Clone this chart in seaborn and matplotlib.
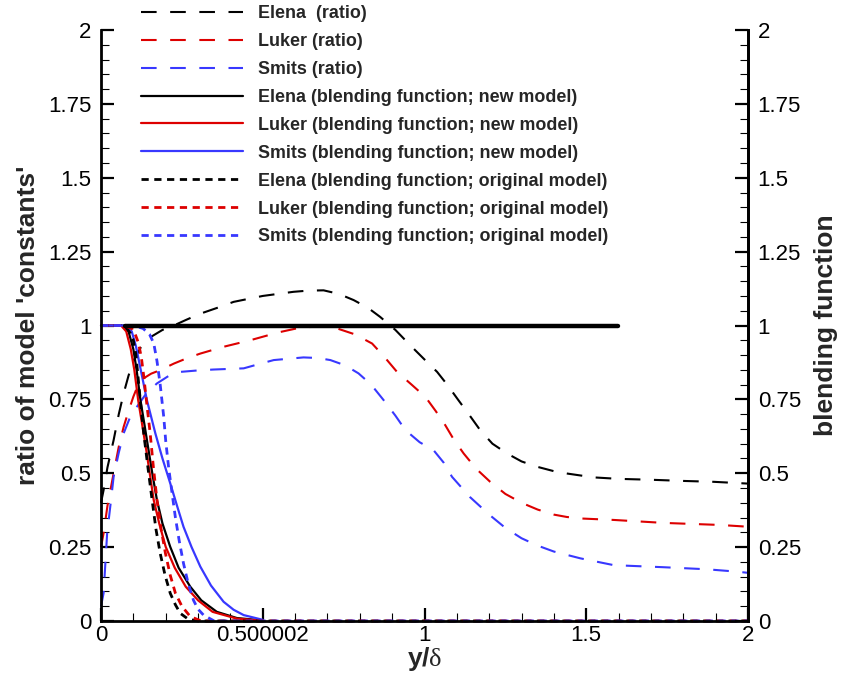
import numpy as np
import pandas as pd
import matplotlib
matplotlib.use("Agg")
import matplotlib.pyplot as plt
import seaborn as sns

# ---------------- data ----------------
elena_new_x = [0, 0.05, 0.07, 0.085, 0.1, 0.11, 0.122, 0.135, 0.147, 0.16, 0.173, 0.19, 0.214, 0.24,
               0.276, 0.31, 0.358, 0.42, 0.5]
elena_new_y = [1, 1, 1.0, 0.98, 0.92, 0.85, 0.747, 0.66, 0.578, 0.49, 0.409, 0.33, 0.251, 0.18,
               0.116, 0.07, 0.031, 0.01, 0.002]

luker_new_x = [0, 0.045, 0.062, 0.078, 0.092, 0.103, 0.115, 0.128, 0.14, 0.152, 0.163, 0.18, 0.2, 0.228,
               0.262, 0.3, 0.345, 0.42, 0.5]
luker_new_y = [1, 1, 1.0, 0.98, 0.92, 0.85, 0.747, 0.66, 0.578, 0.49, 0.409, 0.33, 0.251, 0.18,
               0.116, 0.07, 0.031, 0.008, 0.001]

smits_new_x = [0, 0.05, 0.08, 0.095, 0.108, 0.121, 0.142, 0.168, 0.19, 0.214, 0.235, 0.255, 0.28, 0.307,
               0.34, 0.379, 0.41, 0.441, 0.5]
smits_new_y = [1, 1, 1.0, 0.98, 0.93, 0.86, 0.747, 0.635, 0.55, 0.466, 0.39, 0.319, 0.25, 0.184,
               0.12, 0.065, 0.038, 0.02, 0.004]

elena_orig_x = [0, 0.06, 0.08, 0.09, 0.1, 0.108, 0.115, 0.123, 0.132, 0.145, 0.158, 0.17, 0.183, 0.198,
                0.214, 0.23, 0.245, 0.27, 0.3, 2.0]
elena_orig_y = [1, 1, 0.99, 0.975, 0.95, 0.9, 0.82, 0.73, 0.636, 0.52, 0.409, 0.31, 0.229, 0.155,
                0.094, 0.055, 0.026, 0.006, 0, 0]

luker_orig_x = [0, 0.07, 0.095, 0.106, 0.116, 0.125, 0.133, 0.142, 0.152, 0.162, 0.173, 0.186, 0.199,
                0.214, 0.23, 0.25, 0.276, 0.31, 2.0]
luker_orig_y = [1, 1, 0.99, 0.97, 0.94, 0.89, 0.82, 0.73, 0.635, 0.52, 0.41, 0.31, 0.23,
                0.155, 0.094, 0.05, 0.015, 0, 0]

smits_orig_x = [0, 0.1, 0.13, 0.15, 0.163, 0.173, 0.183, 0.194, 0.2, 0.209, 0.22, 0.23, 0.242, 0.255,
                0.27, 0.286, 0.3, 0.317, 0.35, 2.0]
smits_orig_y = [1, 1, 0.99, 0.97, 0.94, 0.88, 0.80, 0.69, 0.61, 0.52, 0.43, 0.35, 0.27, 0.195,
                0.125, 0.07, 0.04, 0.02, 0, 0]

elena_ratio_x = [0.0, 0.008, 0.02, 0.039, 0.055, 0.07, 0.085, 0.1, 0.125, 0.152, 0.19, 0.225, 0.265,
                 0.307, 0.36, 0.41, 0.5, 0.595, 0.64, 0.688, 0.735, 0.781, 0.825, 0.863, 0.91, 0.956,
                 1.0, 1.039, 1.07, 1.105, 1.14, 1.172, 1.21, 1.255, 1.3, 1.348, 1.4, 1.441, 1.523,
                 1.6, 1.7, 1.8, 1.894, 2.0]
elena_ratio_y = [0.40, 0.443, 0.52, 0.612, 0.70, 0.77, 0.83, 0.88, 0.93, 0.96, 0.985, 1.0, 1.02,
                 1.04, 1.06, 1.08, 1.10, 1.114, 1.118, 1.119, 1.107, 1.086, 1.06, 1.029, 0.985, 0.933,
                 0.885, 0.843, 0.80, 0.747, 0.695, 0.646, 0.60, 0.567, 0.54, 0.522, 0.507, 0.499, 0.486,
                 0.481, 0.478, 0.474, 0.471, 0.465]

luker_ratio_x = [0, 0.008, 0.02, 0.039, 0.055, 0.07, 0.085, 0.1, 0.115, 0.13, 0.155, 0.183, 0.225,
                 0.265, 0.307, 0.379, 0.461, 0.51, 0.554, 0.6, 0.647, 0.69, 0.73, 0.785, 0.838, 0.875,
                 0.915, 0.96, 1.003, 1.035, 1.064, 1.09, 1.121, 1.16, 1.203, 1.25, 1.3, 1.35, 1.4,
                 1.44, 1.482, 1.585, 1.739, 1.914, 2.0]
luker_ratio_y = [0.25, 0.297, 0.39, 0.5, 0.59, 0.657, 0.71, 0.759, 0.80, 0.82, 0.837, 0.849, 0.871,
                 0.889, 0.905, 0.928, 0.95, 0.965, 0.978, 0.989, 0.995, 0.996, 0.99, 0.97, 0.939, 0.895,
                 0.843, 0.80, 0.758, 0.71, 0.663, 0.615, 0.567, 0.515, 0.471, 0.43, 0.40, 0.377, 0.36,
                 0.352, 0.347, 0.342, 0.332, 0.325, 0.319]

smits_ratio_x = [0, 0.008, 0.019, 0.03, 0.039, 0.055, 0.07, 0.09, 0.111, 0.14, 0.173, 0.21, 0.245,
                 0.3, 0.348, 0.441, 0.49, 0.534, 0.626, 0.67, 0.709, 0.755, 0.796, 0.835, 0.874, 0.91,
                 0.941, 0.985, 1.028, 1.06, 1.085, 1.14, 1.2, 1.25, 1.3, 1.35, 1.4, 1.482, 1.585,
                 1.739, 1.873, 1.966, 2.0]
smits_ratio_y = [0.05, 0.094, 0.297, 0.40, 0.488, 0.57, 0.635, 0.69, 0.725, 0.77, 0.804, 0.83, 0.843,
                 0.848, 0.851, 0.855, 0.87, 0.883, 0.892, 0.89, 0.883, 0.865, 0.838, 0.80, 0.747, 0.695,
                 0.646, 0.605, 0.578, 0.535, 0.488, 0.42, 0.36, 0.315, 0.28, 0.255, 0.235, 0.212, 0.189,
                 0.182, 0.175, 0.167, 0.163]

unity_x = [0.075, 1.597]
unity_y = [1, 1]

x_ticks = [0, 0.5, 1, 1.5, 2]
x_tick_labels = ["0", "0.500002", "1", "1.5", "2"]
y_ticks = [0, 0.25, 0.5, 0.75, 1, 1.25, 1.5, 1.75, 2]
y_tick_labels = ["0", "0.25", "0.5", "0.75", "1", "1.25", "1.5", "1.75", "2"]

# ---------------- style ----------------
sns.set_style("white")
plt.rcParams["font.family"] = ["Liberation Sans", "DejaVu Sans"]
plt.rcParams["mathtext.fontset"] = "custom"
plt.rcParams["mathtext.rm"] = "Liberation Serif"
plt.rcParams["mathtext.bf"] = "Liberation Sans:bold"
plt.rcParams["mathtext.it"] = "Liberation Serif"

RED = "#dd0000"
BLUE = "#3838ff"
BLACK = "#000000"

fig = plt.figure(figsize=(8.41, 6.79), dpi=100)
ax = fig.add_axes([101 / 841, 1 - 621 / 679, (748 - 101) / 841, (621 - 30) / 679])

long_dash = (0, (7.5, 6.5))
short_dash = (0, (2.6, 2.0))

series = [
    (elena_ratio_x, elena_ratio_y, BLACK, long_dash, 1.5, "Elena  (ratio)"),
    (luker_ratio_x, luker_ratio_y, RED, long_dash, 1.5, "Luker (ratio)"),
    (smits_ratio_x, smits_ratio_y, BLUE, long_dash, 1.5, "Smits (ratio)"),
    (elena_new_x, elena_new_y, BLACK, "-", 1.6, "Elena (blending function; new model)"),
    (luker_new_x, luker_new_y, RED, "-", 1.6, "Luker (blending function; new model)"),
    (smits_new_x, smits_new_y, BLUE, "-", 1.6, "Smits (blending function; new model)"),
    (elena_orig_x, elena_orig_y, BLACK, short_dash, 2.0, "Elena (blending function; original model)"),
    (luker_orig_x, luker_orig_y, RED, short_dash, 2.0, "Luker (blending function; original model)"),
    (smits_orig_x, smits_orig_y, BLUE, short_dash, 2.0, "Smits (blending function; original model)"),
]

handles = []
for xs, ys, c, ls, lw, lab in series:
    df = pd.DataFrame({"x": xs, "y": ys})
    sns.lineplot(data=df, x="x", y="y", ax=ax, color=c, linewidth=lw,
                 estimator=None, sort=False, legend=False)
    ln = ax.get_lines()[-1]
    ln.set_linestyle(ls)
    ln.set_label(lab)
    ln.set_clip_on(False)
    handles.append(ln)

sns.lineplot(x=unity_x, y=unity_y, ax=ax, color=BLACK, linewidth=3.2,
             estimator=None, legend=False)

ax.set_xlim(0, 2)
ax.set_ylim(0, 2)
ax.set_xticks(x_ticks)
ax.set_xticklabels(x_tick_labels)
ax.set_yticks(y_ticks)
ax.set_yticklabels(y_tick_labels)
ax.set_xticks(np.arange(0, 2.0001, 0.1), minor=True)
ax.set_yticks(np.arange(0, 2.0001, 0.05), minor=True)

for s in ["left", "bottom", "right"]:
    ax.spines[s].set_visible(True)
    ax.spines[s].set_linewidth(2.0)
    ax.spines[s].set_color("black")
ax.spines["top"].set_visible(False)

TICK_FS = 16
ax.tick_params(axis="both", which="major", direction="in", length=9.5, width=1.6,
               labelsize=TICK_FS, colors="black")
ax.tick_params(axis="y", which="major", pad=7)
ax.tick_params(axis="x", which="major", pad=3)
ax.tick_params(axis="both", which="minor", direction="in", length=5.5, width=0.8, colors="black")
ax.tick_params(axis="x", which="both", top=False, bottom=True)
ax.tick_params(axis="y", which="both", left=True, right=False)

ax.set_xlabel(r"$\mathbf{y/}\mathrm{\delta}$", fontsize=19, labelpad=-1)
ax.set_ylabel("ratio of model 'constants'", fontsize=19, fontweight="bold", labelpad=6)

ax2 = ax.twinx()
ax2.set_ylim(0, 2)
ax2.set_yticks(y_ticks)
ax2.set_yticklabels(y_tick_labels)
ax2.set_yticks(np.arange(0, 2.0001, 0.05), minor=True)
for s in ["left", "bottom", "top"]:
    ax2.spines[s].set_visible(False)
ax2.spines["right"].set_linewidth(2.0)
ax2.spines["right"].set_color("black")
ax2.tick_params(axis="y", which="major", direction="in", length=9.5, width=1.6,
                labelsize=TICK_FS, pad=7, colors="black")
ax2.tick_params(axis="y", which="minor", direction="in", length=5.5, width=0.8, colors="black")
ax2.set_ylabel("blending function", fontsize=19, fontweight="bold", labelpad=9)
ax2.grid(False)
ax.grid(False)

LEG_FS = 12.9
fig.legend(handles=handles, loc="upper left",
           bbox_to_anchor=(141 / 841, 1 - 5 / 679),
           frameon=False, prop={"weight": "bold", "size": LEG_FS},
           handlelength=5.7, handletextpad=0.82, labelspacing=0.61,
           borderaxespad=0, borderpad=0)

fig.savefig("out.png", dpi=100)
